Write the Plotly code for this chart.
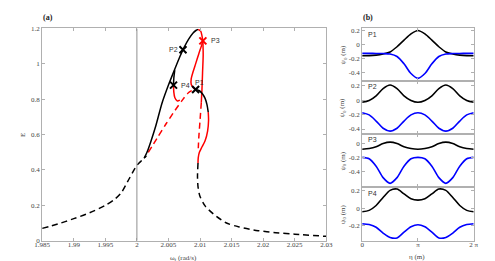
import plotly.graph_objects as go
import numpy as np

# ---------------- Panel (a) data ----------------
bl_dash_left_x = [1.985, 1.9875, 1.99, 1.9925, 1.995, 1.9965, 1.9975, 1.9988, 2.0, 2.0008, 2.0015]
bl_dash_left_y = [0.07, 0.095, 0.125, 0.158, 0.2, 0.235, 0.27, 0.352, 0.426, 0.455, 0.48]

bl_rise_x = [2.0012, 2.0016, 2.0022, 2.0030, 2.0040, 2.0050, 2.0060, 2.0068, 2.0075, 2.0082, 2.0089, 2.0094, 2.0097]
bl_rise_y = [0.47, 0.50, 0.56, 0.65, 0.78, 0.88, 0.97, 1.04, 1.095, 1.14, 1.175, 1.19, 1.195]

red_top_x = [2.0097, 2.0101, 2.0103, 2.01045]
red_top_y = [1.195, 1.185, 1.16, 1.13]

red_inner_x = [2.01045, 2.0103, 2.0098, 2.0093, 2.0089, 2.0086, 2.0086, 2.0089, 2.0093]
red_inner_y = [1.13, 1.11, 1.056, 1.0, 0.955, 0.915, 0.885, 0.866, 0.855]

red_vert_x = [2.01045, 2.0105, 2.0104, 2.0103, 2.0102]
red_vert_y = [1.13, 1.05, 0.95, 0.85, 0.78]

red_vert_dash_x = [2.0102, 2.0100, 2.0098, 2.0097]
red_vert_dash_y = [0.78, 0.68, 0.58, 0.50]

bl_p1_x = [2.0093, 2.0099, 2.0104, 2.0108, 2.0111, 2.0113]
bl_p1_y = [0.855, 0.848, 0.83, 0.805, 0.77, 0.727]

red_low_x = [2.0113, 2.01135, 2.0112, 2.0108, 2.0103, 2.0099, 2.00972, 2.00968]
red_low_y = [0.727, 0.68, 0.62, 0.565, 0.53, 0.50, 0.47, 0.44]

bl_dash_right_x = [2.00968, 2.0096, 2.0097, 2.0100, 2.0108, 2.0121, 2.0141, 2.0162, 2.0192, 2.022, 2.025, 2.03]
bl_dash_right_y = [0.44, 0.36, 0.30, 0.25, 0.197, 0.152, 0.102, 0.078, 0.057, 0.046, 0.037, 0.025]

bl_p4_x = [2.0060, 2.00585, 2.0058]
bl_p4_y = [0.965, 0.92, 0.88]

red_p4_x = [2.0058, 2.00585, 2.0060, 2.0064, 2.0068]
red_p4_y = [0.88, 0.84, 0.81, 0.79, 0.795]

red_dash_x = [2.0018, 2.0032, 2.0046, 2.0060, 2.0072, 2.0082, 2.0091]
red_dash_y = [0.50, 0.58, 0.66, 0.735, 0.795, 0.838, 0.856]

pt_names = ["P1", "P2", "P3", "P4"]
pt_x = [2.0093, 2.0073, 2.01045, 2.0058]
pt_y = [0.855, 1.08, 1.13, 0.88]
pt_colors = ["black", "black", "red", "black"]

a_xticks = [1.985, 1.99, 1.995, 2.0, 2.005, 2.01, 2.015, 2.02, 2.025, 2.03]
a_xticklabels = ["1.985", "1.99", "1.995", "2", "2.005", "2.01", "2.015", "2.02", "2.025", "2.03"]
a_yticks = [0, 0.2, 0.4, 0.6, 0.8, 1.0, 1.2]
a_yticklabels = ["0", "0.2", "0.4", "0.6", "0.8", "1", "1.2"]

# ---------------- Panel (b) data ----------------
eta_frac = [0, 0.125, 0.25, 0.375, 0.5, 0.625, 0.75, 0.875, 1.0,
            1.125, 1.25, 1.375, 1.5, 1.625, 1.75, 1.875, 2.0]  # in units of pi

p1_black = [-0.165, -0.163, -0.155, -0.138, -0.11, -0.035, 0.06, 0.15, 0.2,
            0.15, 0.06, -0.035, -0.11, -0.138, -0.155, -0.163, -0.165]
p1_blue = [-0.13, -0.13, -0.131, -0.133, -0.14, -0.175, -0.28, -0.42, -0.49,
           -0.42, -0.28, -0.175, -0.14, -0.133, -0.131, -0.13, -0.13]

p2_black = [-0.03, -0.005, 0.06, 0.16, 0.21, 0.16, 0.06, -0.005, -0.03,
            -0.005, 0.06, 0.16, 0.21, 0.16, 0.06, -0.005, -0.03]
p2_blue = [-0.175, -0.205, -0.29, -0.39, -0.43, -0.39, -0.29, -0.205, -0.175,
           -0.205, -0.29, -0.39, -0.43, -0.39, -0.29, -0.205, -0.175]

p3_black = [-0.08, -0.07, -0.045, 0.0, 0.02, 0.0, -0.045, -0.07, -0.08,
            -0.07, -0.045, 0.0, 0.02, 0.0, -0.045, -0.07, -0.08]
p3_blue = [-0.195, -0.215, -0.32, -0.48, -0.56, -0.48, -0.32, -0.215, -0.195,
           -0.215, -0.32, -0.48, -0.56, -0.48, -0.32, -0.215, -0.195]

p4_black = [-0.04, -0.025, 0.03, 0.12, 0.20, 0.215, 0.16, 0.105, 0.09,
            0.105, 0.16, 0.215, 0.20, 0.12, 0.03, -0.025, -0.04]
p4_blue = [-0.175, -0.185, -0.215, -0.28, -0.33, -0.335, -0.27, -0.21, -0.186,
           -0.21, -0.27, -0.335, -0.33, -0.28, -0.215, -0.185, -0.175]

b_ranges = [[-0.525, 0.228], [-0.471, 0.267], [-0.618, 0.132], [-0.367, 0.233]]
b_yticks = [[0.2, 0, -0.2, -0.4], [0.2, 0, -0.2, -0.4], [0, -0.2, -0.4], [0.2, 0, -0.2]]
b_yticklabels = [["0.2", "0", "-0.2", "-0.4"], ["0.2", "0", "-0.2", "-0.4"],
                 ["0", "-0.2", "-0.4"], ["0.2", "0", "-0.2"]]
b_xticklabels = ["0", "π", "2 π"]

# ---------------- Build figure ----------------
W, H = 495, 261
fig = go.Figure()

def seg(x, y, color, dash="solid", width=1.5, xa="x", ya="y"):
    fig.add_trace(go.Scatter(x=x, y=y, mode="lines", xaxis=xa, yaxis=ya,
                             line=dict(color=color, width=width, dash=dash, shape="spline", smoothing=0.8),
                             showlegend=False, hoverinfo="skip"))

DASH = "6px,4px"
seg(bl_dash_left_x, bl_dash_left_y, "black", DASH)
seg(bl_dash_right_x, bl_dash_right_y, "black", DASH)
seg(red_dash_x, red_dash_y, "red", DASH)
seg(red_vert_dash_x, red_vert_dash_y, "red", DASH)
seg(bl_rise_x, bl_rise_y, "black")
seg(red_top_x, red_top_y, "red")
seg(red_inner_x, red_inner_y, "red")
seg(red_vert_x, red_vert_y, "red")
seg(red_low_x, red_low_y, "red")
seg(bl_p1_x, bl_p1_y, "black")
seg(bl_p4_x, bl_p4_y, "black")
seg(red_p4_x, red_p4_y, "red")

fig.add_trace(go.Scatter(x=pt_x, y=pt_y, mode="markers", xaxis="x", yaxis="y",
                         marker=dict(symbol="x-thin", size=7, color=pt_colors,
                                     line=dict(width=2, color=pt_colors)),
                         showlegend=False, hoverinfo="skip"))

# panel (b) traces
eta = [f * np.pi for f in eta_frac]
profiles = [(p1_black, p1_blue), (p2_black, p2_blue), (p3_black, p3_blue), (p4_black, p4_blue)]
for i, (bk, bu) in enumerate(profiles):
    xa = "x%d" % (i + 2)
    ya = "y%d" % (i + 2)
    seg(eta, bk, "black", width=1.6, xa=xa, ya=ya)
    seg(eta, bu, "#0000ff", width=1.6, xa=xa, ya=ya)

def px2fx(p):
    return p / W

def py2fy(p):
    return 1 - p / H

tickfont = dict(family="Liberation Serif", size=7, color="#444")
axis_common = dict(showline=True, linecolor="#b0b0b0", linewidth=1, mirror="ticks",
                   ticks="inside", ticklen=3, tickcolor="#b0b0b0", showgrid=False,
                   zeroline=False, tickfont=tickfont)

layout = dict(
    width=W, height=H, margin=dict(l=0, r=0, t=0, b=0),
    paper_bgcolor="white", plot_bgcolor="white",
    xaxis=dict(domain=[px2fx(27), px2fx(320)], range=[1.985, 2.03], anchor="y",
               tickvals=a_xticks, ticktext=a_xticklabels, ticklabelstandoff=-3, **axis_common),
    yaxis=dict(domain=[py2fy(236), py2fy(17)], range=[0, 1.2], anchor="x",
               tickvals=a_yticks, ticktext=a_yticklabels, **axis_common),
)

b_tops = [17, 71, 126, 181]
b_bots = [71, 126, 181, 236]
for i in range(4):
    n = i + 2
    layout["xaxis%d" % n] = dict(domain=[px2fx(357), px2fx(472)], range=[0, 2 * np.pi],
                                 anchor="y%d" % n, tickvals=[0, np.pi, 2 * np.pi],
                                 ticktext=b_xticklabels, showticklabels=(i == 3),
                                 ticklabelstandoff=-3, **axis_common)
    layout["yaxis%d" % n] = dict(domain=[py2fy(b_bots[i]), py2fy(b_tops[i])], range=b_ranges[i],
                                 anchor="x%d" % n, tickvals=b_yticks[i], ticktext=b_yticklabels[i],
                                 **axis_common)

fig.update_layout(**layout)

# vertical line at omega=2
fig.add_shape(type="line", xref="x", yref="y", x0=2.0, x1=2.0, y0=0, y1=1.2,
              line=dict(color="#909090", width=1))

ann = []
serif = "Liberation Serif"
sans = "Liberation Sans"
# point labels
offs = [(2.0089, 0.895, "left"), (2.0068, 1.083, "right"), (2.0114, 1.13, "left"), (2.0066, 0.88, "left")]
for name, (ax_, ay_, anc) in zip(pt_names, offs):
    ann.append(dict(x=ax_, y=ay_, xref="x", yref="y", text=name, showarrow=False,
                    xanchor=anc, yanchor="middle", font=dict(family=sans, size=7, color="#333")))
# panel labels
ann.append(dict(x=px2fx(33), y=py2fy(6), xref="paper", yref="paper", text="<b>(a)</b>", showarrow=False,
                xanchor="center", yanchor="middle", font=dict(family=serif, size=8, color="#222")))
ann.append(dict(x=px2fx(363), y=py2fy(6), xref="paper", yref="paper", text="<b>(b)</b>", showarrow=False,
                xanchor="center", yanchor="middle", font=dict(family=serif, size=8, color="#222")))
# axis titles
ann.append(dict(x=px2fx(173), y=py2fy(254), xref="paper", yref="paper",
                text="ω<sub>f</sub> (rad/s)", showarrow=False, xanchor="center", yanchor="middle",
                font=dict(family=serif, size=7, color="#444")))
ann.append(dict(x=px2fx(7), y=py2fy(127), xref="paper", yref="paper", text="E", showarrow=False,
                textangle=-90, xanchor="center", yanchor="middle", font=dict(family=serif, size=7, color="#444")))
ann.append(dict(x=px2fx(414), y=py2fy(253), xref="paper", yref="paper", text="η (m)", showarrow=False,
                xanchor="center", yanchor="middle", font=dict(family=serif, size=7, color="#444")))
for i in range(4):
    yc = (b_tops[i] + b_bots[i]) / 2
    ann.append(dict(x=px2fx(337), y=py2fy(yc), xref="paper", yref="paper",
                    text="ψ<sub>0</sub> (m)", showarrow=False, textangle=-90,
                    xanchor="center", yanchor="middle", font=dict(family=serif, size=7, color="#444")))
    ann.append(dict(x=px2fx(361), y=py2fy(b_tops[i] + 6), xref="paper", yref="paper",
                    text="P%d" % (i + 1), showarrow=False, xanchor="left", yanchor="middle",
                    font=dict(family=sans, size=7, color="#333")))

fig.update_layout(annotations=ann)
fig.write_html("out.html")
